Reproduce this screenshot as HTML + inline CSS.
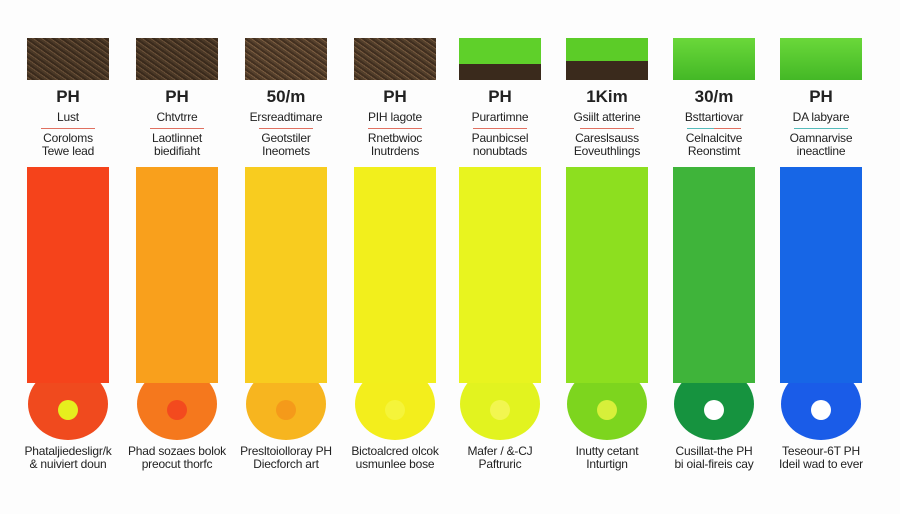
<!DOCTYPE html>
<html><head><meta charset="utf-8"><style>
body{margin:0;width:900px;height:514px;background:#fdfdfd;position:relative;overflow:hidden;font-family:"Liberation Sans",Arial,sans-serif;color:#222}
.c{position:absolute;top:0;width:82px;height:514px}
.img{position:absolute;left:0;top:38px;width:82px;height:42px}
.soil{background:repeating-linear-gradient(35deg,#4a3826 0 2px,#6a5038 2px 3px,#3a2a1c 3px 5px),#4a3826}
.t{position:absolute;left:-30px;width:142px;text-align:center;font-size:12px;line-height:13px;white-space:nowrap;letter-spacing:-0.2px}
.h{top:88px;font-size:17px;font-weight:bold;line-height:18px;letter-spacing:0}
.l2{top:111px}
.hr{position:absolute;left:14px;width:54px;top:128px;height:1px;background:#e07060}
.l3{top:132px}
.bar{position:absolute;left:0;top:167px;width:82px;height:216px}
.circ{position:absolute;left:1px;top:368px;width:80px;height:72px;border-radius:50%}
.dot{position:absolute;left:31px;top:400px;width:20px;height:20px;border-radius:50%}
.b{top:445px}
</style></head><body>

<div class="c" style="left:27px">
<div class="img soil"></div>
<div class="t h">PH</div><div class="t l2">Lust</div><div class="hr"></div>
<div class="t l3">Coroloms<br>Tewe lead</div>
<div class="circ" style="background:#f04a1e"></div><div class="bar" style="background:#f5431b"></div>
<div class="dot" style="background:#e6ee1e"></div>
<div class="t b">Phataljiedesligr/k<br>&amp; nuiviert doun</div></div>

<div class="c" style="left:136px">
<div class="img soil"></div>
<div class="t h">PH</div><div class="t l2">Chtvtrre</div><div class="hr"></div>
<div class="t l3">Laotlinnet<br>biedifiaht</div>
<div class="circ" style="background:#f5781d"></div><div class="bar" style="background:#f9a01c"></div>
<div class="dot" style="background:#f34a1e"></div>
<div class="t b">Phad sozaes bolok<br>preocut thorfc</div></div>

<div class="c" style="left:245px">
<div class="img soil" style="filter:brightness(1.15)"></div>
<div class="t h">50/m</div><div class="t l2">Ersreadtimare</div><div class="hr"></div>
<div class="t l3">Geotstiler<br>Ineomets</div>
<div class="circ" style="background:#f7b51f"></div><div class="bar" style="background:#f8cc1f"></div>
<div class="dot" style="background:#f59a1a"></div>
<div class="t b">Presltoiolloray PH<br>Diecforch art</div></div>

<div class="c" style="left:354px">
<div class="img soil" style="filter:brightness(1.1)"></div>
<div class="t h">PH</div><div class="t l2">PIH lagote</div><div class="hr"></div>
<div class="t l3">Rnetbwioc<br>Inutrdens</div>
<div class="circ" style="background:#f3ee1c"></div><div class="bar" style="background:#f2ef1c"></div>
<div class="dot" style="background:#f5f43a"></div>
<div class="t b">Bictoalcred olcok<br>usmunlee bose</div></div>

<div class="c" style="left:459px">
<div class="img" style="background:linear-gradient(#5fd02a 0 62%,#3a2a1c 62%)"></div>
<div class="t h">PH</div><div class="t l2">Purartimne</div><div class="hr"></div>
<div class="t l3">Paunbicsel<br>nonubtads</div>
<div class="circ" style="background:#e2f31f"></div><div class="bar" style="background:#e8f41f"></div>
<div class="dot" style="background:#f2f650"></div>
<div class="t b">Mafer / &amp;-CJ<br>Paftruric</div></div>

<div class="c" style="left:566px">
<div class="img" style="background:linear-gradient(#5ccc28 0 55%,#3a2a1c 55%)"></div>
<div class="t h">1Kim</div><div class="t l2">Gsiilt atterine</div><div class="hr"></div>
<div class="t l3">Careslsauss<br>Eoveuthlings</div>
<div class="circ" style="background:#7dd51e"></div><div class="bar" style="background:#8ddf1f"></div>
<div class="dot" style="background:#d7f03a"></div>
<div class="t b">Inutty cetant<br>Inturtign</div></div>

<div class="c" style="left:673px">
<div class="img" style="background:linear-gradient(#6ad83a,#44b826)"></div>
<div class="t h">30/m</div><div class="t l2">Bsttartiovar</div><div class="hr" style="background:linear-gradient(90deg,#5bb 50%,#e07060 50%)"></div>
<div class="t l3">Celnalcitve<br>Reonstimt</div>
<div class="circ" style="background:#16933f"></div><div class="bar" style="background:#3fb43a"></div>
<div class="dot" style="background:#fff"></div>
<div class="t b">Cusillat-the PH<br>bi oial-fireis cay</div></div>

<div class="c" style="left:780px">
<div class="img" style="background:linear-gradient(#6ad83a,#44b826)"></div>
<div class="t h">PH</div><div class="t l2">DA labyare</div><div class="hr" style="background:#5bb"></div>
<div class="t l3">Oamnarvise<br>ineactline</div>
<div class="circ" style="background:#1a5ce8"></div><div class="bar" style="background:#1766e6"></div>
<div class="dot" style="background:#fff"></div>
<div class="t b">Teseour-6T PH<br>Ideil wad to ever</div></div>

</body></html>
